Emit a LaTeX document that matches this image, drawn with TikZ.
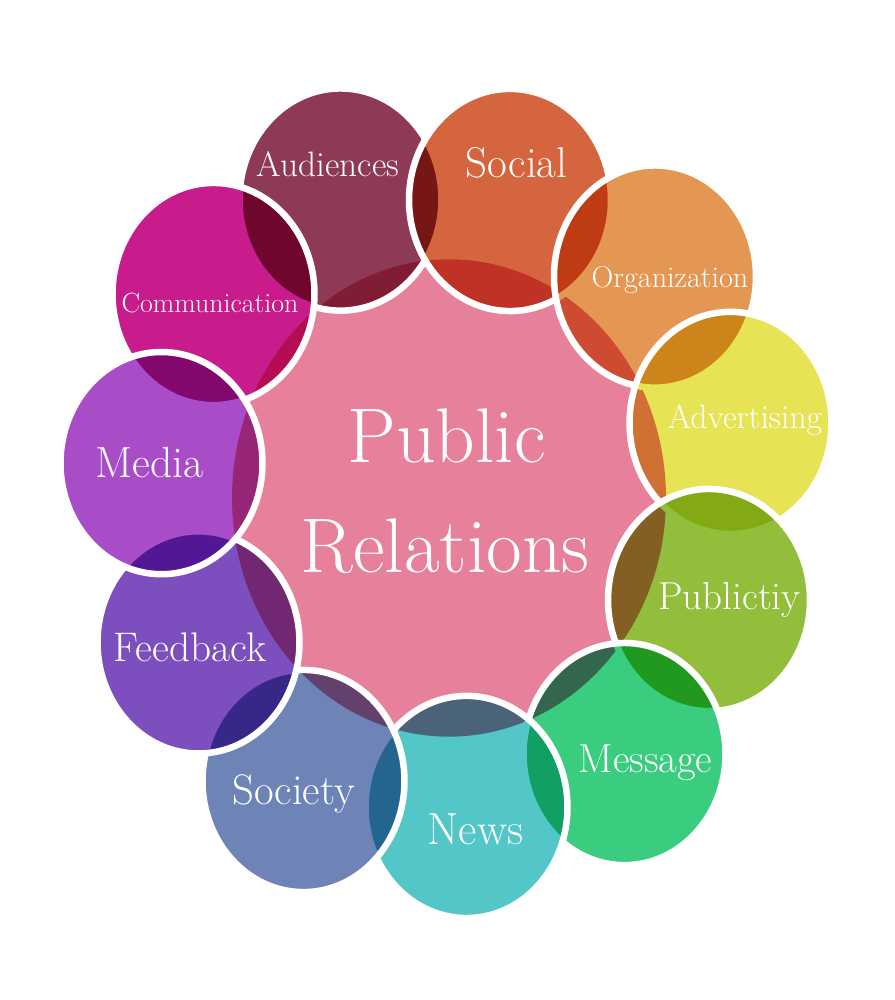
\documentclass[tikz,border=0pt]{standalone}
\usetikzlibrary{positioning}
\definecolor{prPink}{RGB}{231,128,154}
\definecolor{prAud}{RGB}{142,57,85}
\definecolor{prSoc}{RGB}{213,101,63}
\definecolor{prOrg}{RGB}{228,150,83}
\definecolor{prAdv}{RGB}{230,227,85}
\definecolor{prPub}{RGB}{146,190,60}
\definecolor{prMsg}{RGB}{58,205,128}
\definecolor{prNews}{RGB}{83,198,200}
\definecolor{prSocy}{RGB}{110,131,182}
\definecolor{prFeed}{RGB}{125,78,190}
\definecolor{prMed}{RGB}{168,76,200}
\definecolor{prCom}{RGB}{200,27,140}

\begin{document}
\begin{tikzpicture}[x=1pt,y=-1.1pt,
    bubble/.style={blend mode=multiply},
    rim/.style={draw=white,line width=6.5pt},
    lbl/.style={text=white,inner sep=0pt,anchor=base}
  ]
    \fill[white] (0,0) rectangle (895,909.09);
    \useasboundingbox (0,0) rectangle (895,909.09);
    % centre
    \fill[prPink] (449,452.7) circle (217);
    % ring, back to front
    \fill[bubble,prAud] (340.5,181.4) circle (101);
    \draw[rim] (340.5,181.4) circle (101);
    \fill[bubble,prSoc] (510,181.8) circle (101);
    \draw[rim] (510,181.8) circle (101);
    \fill[bubble,prOrg] (655,251.4) circle (101);
    \draw[rim] (655,251.4) circle (101);
    \fill[bubble,prAdv] (730.5,384.5) circle (101);
    \draw[rim] (730.5,384.5) circle (101);
    \fill[bubble,prPub] (709,545.5) circle (101);
    \draw[rim] (709,545.5) circle (101);
    \fill[bubble,prMsg] (624.5,685.5) circle (101);
    \draw[rim] (624.5,685.5) circle (101);
    \fill[bubble,prNews] (466.5,733.6) circle (101);
    \draw[rim] (466.5,733.6) circle (101);
    \fill[bubble,prSocy] (303.5,710) circle (101);
    \draw[rim] (303.5,710) circle (101);
    \fill[bubble,prFeed] (198.5,584) circle (101);
    \draw[rim] (198.5,584) circle (101);
    \fill[bubble,prCom] (213.5,267.3) circle (101);
    \draw[rim] (213.5,267.3) circle (101);
    \fill[bubble,prMed] (161.5,421) circle (101);
    \draw[rim] (161.5,421) circle (101);
    % labels
    \node[lbl,font=\fontsize{77.5}{88}\selectfont] (public) at (446.5,420) {Public};
    \node[lbl,font=\fontsize{77.5}{88}\selectfont] (relations) at (445,520.9) {Relations};
    \node[lbl,font=\fontsize{35.3}{40}\selectfont] (aud) at (328,160) {Audiences};
    \node[lbl,font=\fontsize{43}{48}\selectfont] (soc) at (516.5,161.8) {Social};
    \node[lbl,font=\fontsize{30.2}{35}\selectfont] (org) at (670,261.8) {Organization};
    \node[lbl,font=\fontsize{33.7}{38}\selectfont] (adv) at (745,389.1) {Advertising};
    \node[lbl,font=\fontsize{39}{44}\selectfont] (pub) at (729.5,554.5) {Publictiy};
    \node[lbl,font=\fontsize{40.6}{46}\selectfont] (msg) at (645.5,702.7) {Message};
    \node[lbl,font=\fontsize{45}{50}\selectfont] (news) at (475.5,767.3) {News};
    \node[lbl,font=\fontsize{42.7}{48}\selectfont] (socy) at (293.5,731.8) {Society};
    \node[lbl,font=\fontsize{41.4}{46}\selectfont] (feed) at (190,601.8) {Feedback};
    \node[lbl,font=\fontsize{43.7}{48}\selectfont] (med) at (149.5,434.5) {Media};
    \node[lbl,font=\fontsize{27.8}{32}\selectfont] (com) at (210,284.5) {Communication};
  \end{tikzpicture}
\end{document}
